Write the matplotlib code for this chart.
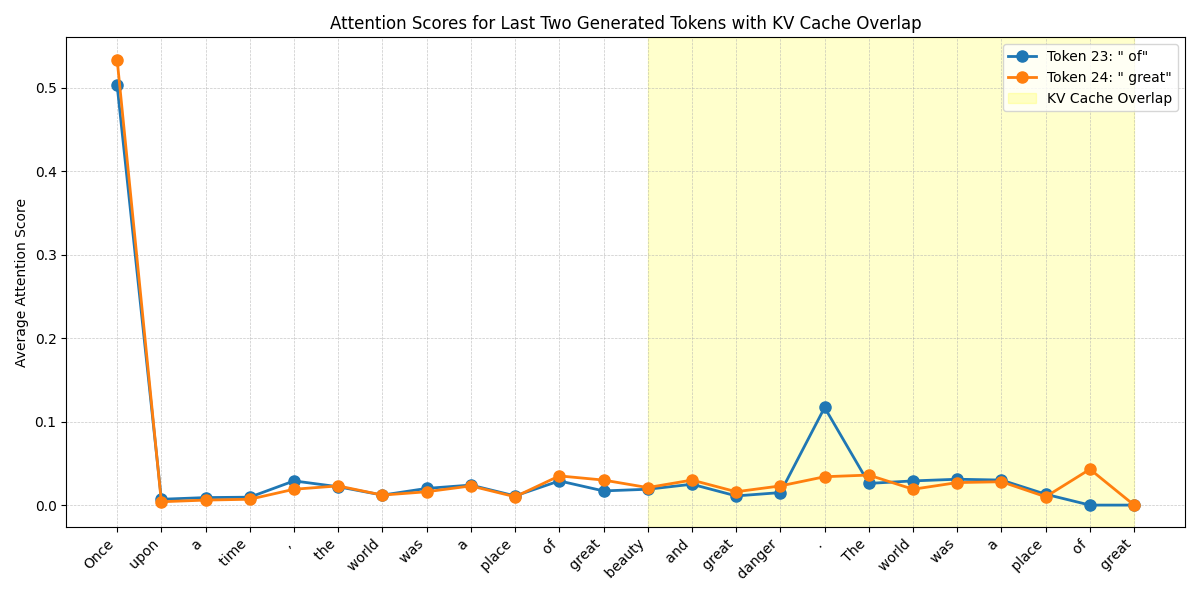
import matplotlib
matplotlib.use("Agg")
import matplotlib.pyplot as plt

tokens = ["Once", " upon", " a", " time", ",", " the", " world", " was", " a", " place",
          " of", " great", " beauty", " and", " great", " danger", ".", " The", " world",
          " was", " a", " place", " of", " great"]

scores_23 = [0.503, 0.007, 0.009, 0.0095, 0.029, 0.022, 0.012, 0.020, 0.024, 0.011,
             0.029, 0.017, 0.019, 0.025, 0.011, 0.015, 0.117, 0.026, 0.029, 0.031,
             0.030, 0.013, 0.0, 0.0]
scores_24 = [0.534, 0.004, 0.006, 0.007, 0.019, 0.023, 0.012, 0.016, 0.023, 0.010,
             0.035, 0.030, 0.021, 0.030, 0.016, 0.023, 0.034, 0.036, 0.019, 0.027,
             0.028, 0.010, 0.043, 0.0]

overlap_start = 12
overlap_end = 23

x = list(range(len(tokens)))

plt.figure(figsize=(12, 6))
plt.plot(x, scores_23, marker='o', markersize=8, linewidth=2, label='Token 23: " of"')
plt.plot(x, scores_24, marker='o', markersize=8, linewidth=2, label='Token 24: " great"')
plt.axvspan(overlap_start, overlap_end, color='yellow', alpha=0.2, label='KV Cache Overlap')

plt.xticks(x, tokens, rotation=45, ha='right')
plt.ylabel('Average Attention Score')
plt.title('Attention Scores for Last Two Generated Tokens with KV Cache Overlap')
plt.legend()
plt.grid(True, linestyle='--', linewidth=0.5, alpha=0.7)
plt.tight_layout()
plt.savefig('out.png', dpi=100)
